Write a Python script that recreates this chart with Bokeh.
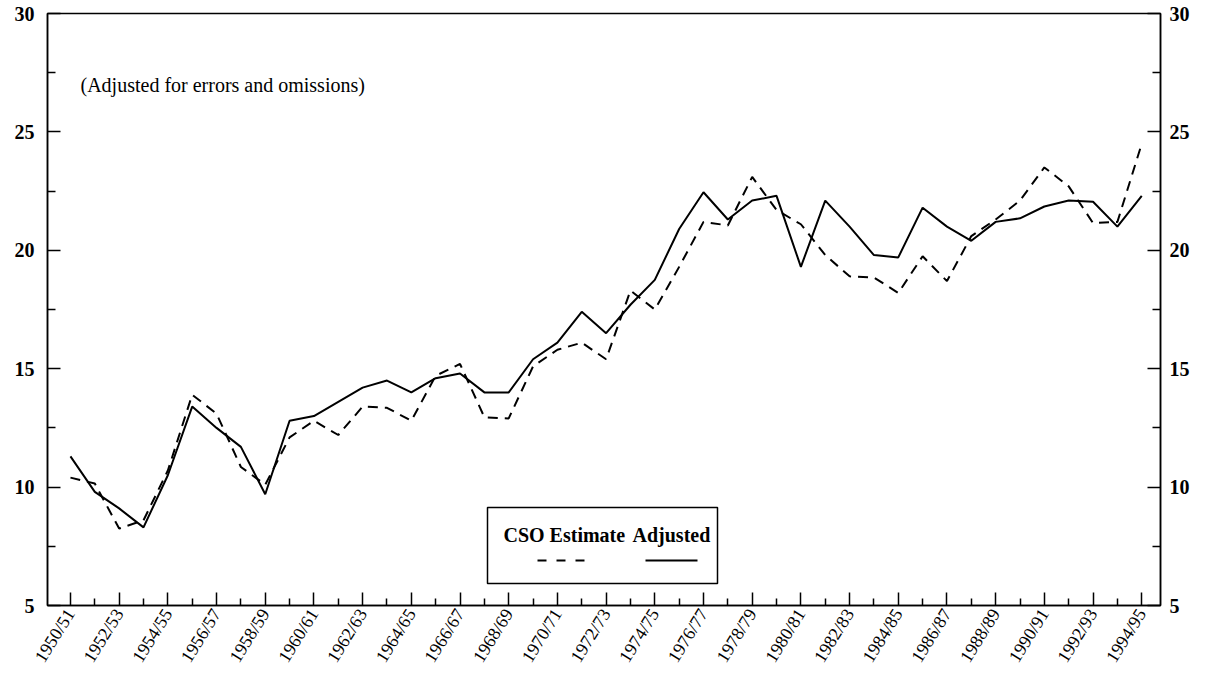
import math
from bokeh.plotting import figure
from bokeh.models import Range1d, LinearAxis, FixedTicker, Label, BoxAnnotation, Arrow
from bokeh.embed import file_html
from bokeh.resources import INLINE

years = ["1950/51", "1951/52", "1952/53", "1953/54", "1954/55", "1955/56", "1956/57",
         "1957/58", "1958/59", "1959/60", "1960/61", "1961/62", "1962/63", "1963/64",
         "1964/65", "1965/66", "1966/67", "1967/68", "1968/69", "1969/70", "1970/71",
         "1971/72", "1972/73", "1973/74", "1974/75", "1975/76", "1976/77", "1977/78",
         "1978/79", "1979/80", "1980/81", "1981/82", "1982/83", "1983/84", "1984/85",
         "1985/86", "1986/87", "1987/88", "1988/89", "1989/90", "1990/91", "1991/92",
         "1992/93", "1993/94", "1994/95"]

cso_estimate = [10.4, 10.15, 8.25, 8.6, 10.7, 13.9, 13.1, 10.85, 10.1, 12.1,
                12.8, 12.2, 13.4, 13.35, 12.8, 14.7, 15.2, 12.95, 12.9, 15.1,
                15.8, 16.1, 15.4, 18.3, 17.5, 19.3, 21.2, 21.05, 23.1, 21.7,
                21.1, 19.8, 18.9, 18.85, 18.2, 19.75, 18.7, 20.6, 21.3, 22.1,
                23.5, 22.7, 21.15, 21.2, 24.5]

adjusted = [11.3, 9.8, 9.1, 8.3, 10.5, 13.4, 12.5, 11.7, 9.7, 12.8,
            13.0, 13.6, 14.2, 14.5, 14.0, 14.6, 14.8, 14.0, 14.0, 15.4,
            16.1, 17.4, 16.5, 17.7, 18.75, 20.9, 22.45, 21.3, 22.1, 22.3,
            19.3, 22.1, 21.0, 19.8, 19.7, 21.8, 21.0, 20.4, 21.2, 21.35,
            21.85, 22.1, 22.05, 21.0, 22.3]

y_ticks = [5, 10, 15, 20, 25, 30]
y_minor = [7.5, 12.5, 17.5, 22.5, 27.5]

FONT = "Liberation Serif"
idx = list(range(len(years)))

p = figure(width=1192, height=674, output_backend="svg", toolbar_location=None,
           x_range=Range1d(-0.943, 44.77), y_range=Range1d(5, 30),
           min_border_left=47, min_border_right=30, min_border_top=13, min_border_bottom=69)
p.background_fill_color = "white"
p.border_fill_color = "white"
p.outline_line_color = "black"
p.outline_line_width = 1.5
p.xgrid.visible = False
p.ygrid.visible = False

p.line(idx, cso_estimate, line_color="black", line_width=2, line_dash="10 7")
p.line(idx, adjusted, line_color="black", line_width=2)

# x axis
xa = p.xaxis[0]
xa.ticker = FixedTicker(ticks=idx[::2], minor_ticks=idx[1::2])
xa.major_label_overrides = {i: years[i] for i in idx[::2]}
xa.major_label_orientation = math.radians(58)
xa.major_label_text_font = FONT
xa.major_label_text_font_size = "18px"
xa.major_label_text_color = "black"
xa.major_label_standoff = 5
xa.major_tick_in = 13
xa.major_tick_out = 0
xa.minor_tick_in = 7
xa.minor_tick_out = 0
xa.axis_line_width = 1.5
xa.axis_line_color = "black"
xa.major_tick_line_width = 1.5
xa.minor_tick_line_width = 1.5

def style_y(ax, standoff):
    ax.ticker = FixedTicker(ticks=y_ticks, minor_ticks=y_minor)
    ax.major_label_text_font = FONT
    ax.major_label_text_font_size = "20px"
    ax.major_label_text_font_style = "bold"
    ax.major_label_text_color = "black"
    ax.major_label_standoff = standoff
    ax.major_tick_in = 13
    ax.major_tick_out = 0
    ax.minor_tick_in = 8
    ax.minor_tick_out = 0
    ax.axis_line_width = 1.5
    ax.axis_line_color = "black"
    ax.major_tick_line_width = 1.5
    ax.minor_tick_line_width = 1.5

style_y(p.yaxis[0], 13)
ra = LinearAxis()
style_y(ra, 9)
p.add_layout(ra, "right")

# annotation text
p.add_layout(Label(x=33, y=521, x_units="screen", y_units="screen",
                   text="(Adjusted for errors and omissions)", text_font=FONT,
                   text_font_size="20px", text_baseline="middle", text_color="black"))

# legend box
p.add_layout(BoxAnnotation(left=440, right=670, bottom=22, top=98,
                           left_units="screen", right_units="screen",
                           bottom_units="screen", top_units="screen",
                           fill_color="white", fill_alpha=1.0,
                           line_color="black", line_alpha=1.0, line_width=1.5))
p.add_layout(Label(x=456, y=71, x_units="screen", y_units="screen", text="CSO Estimate",
                   text_font=FONT, text_font_size="20px", text_font_style="bold",
                   text_baseline="middle", text_color="black"))
p.add_layout(Label(x=585, y=71, x_units="screen", y_units="screen", text="Adjusted",
                   text_font=FONT, text_font_size="20px", text_font_style="bold",
                   text_baseline="middle", text_color="black"))
p.add_layout(Arrow(end=None, x_start=490, y_start=45, x_end=538, y_end=45,
                   start_units="screen", end_units="screen",
                   line_color="black", line_width=2, line_dash="9 10"))
p.add_layout(Arrow(end=None, x_start=598, y_start=45, x_end=650, y_end=45,
                   start_units="screen", end_units="screen",
                   line_color="black", line_width=2))

open("out.html", "w").write(file_html(p, INLINE))
